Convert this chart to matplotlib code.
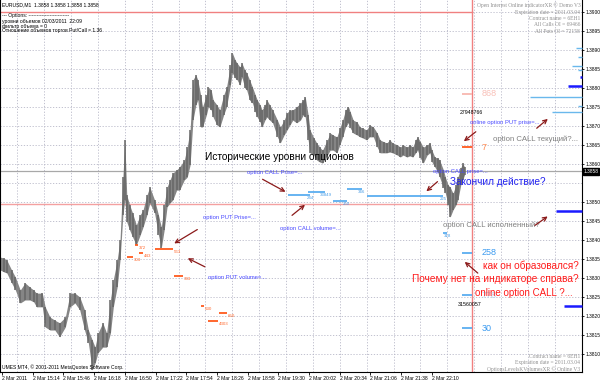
import matplotlib
matplotlib.use("Agg")
import matplotlib.pyplot as plt

plt.rcParams['font.family'] = ['Liberation Sans', 'DejaVu Sans']

# ---------------- price bars (minutes after 14:42, high, low) ----------------
bar_minute = [-2, 2, 5, 10, 14, 19, 24, 29, 33, 36, 42, 45, 50, 55, 60, 66, 71, 76, 81, 86,
              90, 94, 97, 100, 105, 109, 113, 116, 120, 123, 126, 128, 130, 133, 136, 140, 144, 147, 151, 154,
              159, 163, 166, 169, 172, 175, 178, 182, 185, 190, 193, 196, 199, 202, 204, 207, 209, 213, 215, 218,
              220, 224, 227, 231, 234, 238, 240, 243, 245, 248, 250, 253, 255, 258, 261, 264, 266, 269, 271, 274,
              276, 279, 282, 287, 290, 294, 297, 300, 303, 307, 311, 314, 316, 319, 321, 325, 328, 331, 334, 339,
              342, 345, 349, 352, 355, 358, 361, 363, 366, 370, 373, 376, 380, 383, 387, 391, 394, 398, 401, 404,
              407, 412, 415, 418, 422, 425, 428, 431, 433, 436, 439, 443, 446, 448, 451, 454, 456, 460, 462, 465,
              467, 470, 473, 475, 478, 480, 482]
bar_high = [1.38355, 1.38352, 1.38347, 1.38321, 1.38302, 1.38268, 1.38287, 1.38276, 1.38268, 1.38260,
            1.38260, 1.38224, 1.38197, 1.38189, 1.38182, 1.38197, 1.38260, 1.38260, 1.38250, 1.38216,
            1.38163, 1.38137, 1.38118, 1.38155, 1.38182, 1.38155, 1.38242, 1.38295, 1.38347, 1.38400,
            1.38565, 1.38663, 1.38518, 1.38492, 1.38471, 1.38439, 1.38466, 1.38479, 1.38518, 1.38539,
            1.38505, 1.38466, 1.38434, 1.38492, 1.38539, 1.38558, 1.38576, 1.38584, 1.38592, 1.38610,
            1.38644, 1.38689, 1.38821, 1.38834, 1.38821, 1.38781, 1.38750, 1.38781, 1.38802, 1.38794,
            1.38768, 1.38755, 1.38742, 1.38781, 1.38802, 1.38860, 1.38892, 1.38873, 1.38865, 1.38855,
            1.38865, 1.38847, 1.38839, 1.38821, 1.38802, 1.38781, 1.38768, 1.38755, 1.38742, 1.38755,
            1.38768, 1.38755, 1.38742, 1.38715, 1.38697, 1.38715, 1.38734, 1.38742, 1.38742, 1.38750,
            1.38760, 1.38768, 1.38776, 1.38729, 1.38689, 1.38668, 1.38655, 1.38644, 1.38636, 1.38663,
            1.38681, 1.38676, 1.38671, 1.38694, 1.38715, 1.38742, 1.38750, 1.38736, 1.38715, 1.38710,
            1.38697, 1.38694, 1.38689, 1.38702, 1.38697, 1.38681, 1.38663, 1.38658, 1.38655, 1.38663,
            1.38655, 1.38650, 1.38644, 1.38650, 1.38644, 1.38650, 1.38644, 1.38663, 1.38671, 1.38658,
            1.38644, 1.38650, 1.38655, 1.38636, 1.38618, 1.38615, 1.38610, 1.38584, 1.38565, 1.38544,
            1.38539, 1.38523, 1.38544, 1.38565, 1.38589, 1.38602, 1.38592]
bar_low = [1.38321, 1.38316, 1.38313, 1.38287, 1.38268, 1.38234, 1.38242, 1.38242, 1.38237, 1.38224,
           1.38224, 1.38171, 1.38163, 1.38163, 1.38145, 1.38171, 1.38224, 1.38234, 1.38216, 1.38163,
           1.38129, 1.38058, 1.38076, 1.38103, 1.38118, 1.38118, 1.38155, 1.38224, 1.38276, 1.38347,
           1.38466, 1.38505, 1.38447, 1.38426, 1.38408, 1.38387, 1.38413, 1.38434, 1.38466, 1.38497,
           1.38471, 1.38413, 1.38379, 1.38426, 1.38487, 1.38497, 1.38505, 1.38531, 1.38531, 1.38558,
           1.38565, 1.38597, 1.38715, 1.38755, 1.38768, 1.38697, 1.38697, 1.38729, 1.38750, 1.38742,
           1.38723, 1.38702, 1.38697, 1.38729, 1.38750, 1.38807, 1.38839, 1.38826, 1.38821, 1.38807,
           1.38828, 1.38800, 1.38794, 1.38768, 1.38760, 1.38736, 1.38723, 1.38710, 1.38697, 1.38715,
           1.38723, 1.38715, 1.38708, 1.38671, 1.38655, 1.38676, 1.38689, 1.38702, 1.38715, 1.38708,
           1.38715, 1.38729, 1.38723, 1.38663, 1.38629, 1.38623, 1.38610, 1.38605, 1.38602, 1.38623,
           1.38636, 1.38636, 1.38629, 1.38650, 1.38671, 1.38697, 1.38708, 1.38694, 1.38681, 1.38676,
           1.38671, 1.38668, 1.38663, 1.38671, 1.38671, 1.38644, 1.38629, 1.38629, 1.38629, 1.38631,
           1.38629, 1.38623, 1.38618, 1.38623, 1.38618, 1.38621, 1.38618, 1.38629, 1.38636, 1.38615,
           1.38602, 1.38623, 1.38629, 1.38605, 1.38592, 1.38579, 1.38565, 1.38537, 1.38523, 1.38492,
           1.38460, 1.38479, 1.38492, 1.38505, 1.38544, 1.38558, 1.38571]

time_ticks = [0, 32, 64, 96, 128, 160, 192, 224, 256, 288, 320, 352, 384, 416, 448]
time_labels = ["2 Mar 2011", "2 Mar 15:14", "2 Mar 15:46", "2 Mar 16:18", "2 Mar 16:50",
               "2 Mar 17:22", "2 Mar 17:54", "2 Mar 18:26", "2 Mar 18:58", "2 Mar 19:30",
               "2 Mar 20:02", "2 Mar 20:34", "2 Mar 21:06", "2 Mar 21:38", "2 Mar 22:10"]
price_ticks = [1.3810, 1.3815, 1.3820, 1.3825, 1.3830, 1.3835, 1.3840, 1.3845, 1.3850,
               1.3860, 1.3865, 1.3870, 1.3875, 1.3880, 1.3885, 1.3890, 1.3895, 1.3900]
current_price = 1.3858
put_call_line = 1.38495

# ---------------- historical option levels ----------------
call_start = [298, 319, 345, 359, 380, 460]
call_end = [321, 337, 359, 375, 460, 464]
call_price = [1.38518, 1.38526, 1.38502, 1.38534, 1.38516, 1.38418]
call_volume = ["244", "33849", "250", "346", "225", "318"]

put_start = [139, 159, 143, 130, 179, 207, 226, 215]
put_end = [142, 178, 147, 136, 189, 210, 234, 225]
put_price = [1.38387, 1.38376, 1.38366, 1.38355, 1.38305, 1.38226, 1.38208, 1.38187]
put_volume = ["372", "563", "443", "303", "383", "630", "650", "4303"]

# ---------------- online option levels (at the last bar) ----------------
online_call_price = [1.38366, 1.38255, 1.38168]
online_call_volume = ["258", "778", "30"]
online_put_price = [1.38644, 1.38784]
online_put_volume = ["7", "868"]
online_start, online_end = 479, 490

# ---------------- open interest histogram on the right ----------------
oi_price = [1.38905, 1.38881, 1.38857, 1.38847, 1.38828, 1.38805, 1.38776, 1.38752, 1.38736,
            1.38476, 1.38226]
oi_length = [6, 4, 10, 4, 2, 15, 54, 4, 31, 27, 19]
oi_dark = [False, False, False, False, True, True, False, False, False, True, True]

X0, X1 = -2.08, 604.4
Y0, Y1 = 1.380526, 1.390310

fig = plt.figure(figsize=(6, 3.82), dpi=100)
ax = fig.add_axes([0, 10 / 382, 582 / 600, 372 / 382])
ax.set_xlim(X0, X1)
ax.set_ylim(Y0, Y1)

# grid
for gx in range(16, 604, 28):
    ax.axvline(gx, color='#b8b8c8', lw=0.6, ls=(0, (1.5, 2)), zorder=0)
for gy in price_ticks + [1.3855]:
    ax.axhline(gy, color='#b8b8c8', lw=0.6, ls=(0, (1.5, 2)), zorder=0)

# price bars
ax.fill_between(bar_minute, bar_low, bar_high, color='#858585', lw=0, zorder=2)
ax.vlines(bar_minute, bar_low, bar_high, color='#666666', lw=1.1, zorder=2)

# reference lines
ax.axhline(current_price, color='#a8a8a8', lw=0.9, zorder=1)
ax.plot([X0, online_end], [put_call_line, put_call_line], color='#f4a0a0', lw=1.0, zorder=1)
ax.plot([X0, online_end], [1.3900, 1.3900], color='#f08080', lw=1.0, zorder=1)
ax.axvline(online_end, color='#f08080', lw=1.0, zorder=1)

# historical CALL levels
for s, e, p, v in zip(call_start, call_end, call_price, call_volume):
    ax.plot([s, e], [p, p], color='#5aaef0', lw=1.3, solid_capstyle='butt', zorder=3)
    ax.text(e, p - 0.00003, v, color='#4a9ee6', fontsize=3.2, ha='center', va='top', zorder=4)

# historical PUT levels
for s, e, p, v in zip(put_start, put_end, put_price, put_volume):
    ax.plot([s, e], [p, p], color='#ff5a1e', lw=1.3, solid_capstyle='butt', zorder=3)
    ax.text(e + 1, p - 0.00002, v, color='#ff6a30', fontsize=3.2, ha='left', va='top', zorder=4)

# online CALL / PUT levels
call_label_color = ['#3a9af0', '#b8d8f4', '#3a9af0']
for p, v, c in zip(online_call_price, online_call_volume, call_label_color):
    ax.plot([online_start, online_end], [p, p], color='#5aaef0', lw=1.3, solid_capstyle='butt', zorder=3)
    ax.text(online_end + 10, p, v, color=c, fontsize=6.5, ha='left', va='center', zorder=4)
put_line_color = ['#ff5a1e', '#f8b8b0']
put_label_color = ['#ff8a50', '#f8c0b8']
for p, v, lc, tc in zip(online_put_price, online_put_volume, put_line_color, put_label_color):
    ax.plot([online_start, online_end], [p, p], color=lc, lw=1.3, solid_capstyle='butt', zorder=3)
    ax.text(online_end + 10, p, v, color=tc, fontsize=6.5, ha='left', va='center', zorder=4)

# OI histogram from the right edge
for p, L, dk in zip(oi_price, oi_length, oi_dark):
    ax.plot([X1 - L, X1], [p, p], color='#1a1aff' if dk else '#6ab8ec',
            lw=1.8 if dk else 1.0, solid_capstyle='butt', zorder=3, clip_on=False)

# annotations
txt = dict(zorder=5, ha='left', va='center')
ax.text(212, 1.38618, "Исторические уровни опционов", color='black', fontsize=7.3, **txt)
ax.text(255, 1.38576, "option CALL Prise=...", color='#4848ff', fontsize=4.2, **txt)
ax.text(209, 1.38460, "option PUT Prise=...", color='#4848ff', fontsize=4.2, **txt)
ax.text(215, 1.38302, "option PUT volume=...", color='#4848ff', fontsize=4.2, **txt)
ax.text(290, 1.38429, "option CALL volume=...", color='#4848ff', fontsize=4.2, **txt)
ax.text(449, 1.38579, "option CALL prise=...", color='#4848ff', fontsize=4.2, **txt)
ax.text(488, 1.38710, "online option PUT prise=...", color='#4848ff', fontsize=4.2, **txt)
ax.text(467, 1.38552, "Закончил действие?", color='#2020f0', fontsize=7.2, **txt)
ax.text(512, 1.38665, "option CALL текущий?...", color='#808080', fontsize=5.6, **txt)
ax.text(460, 1.38439, "option CALL исполненный?", color='#808080', fontsize=5.6, **txt)
ax.text(501, 1.38333, "как он образовался?", color='#ff1a1a', fontsize=7.2, **txt)
ax.text(427, 1.38298, "Почему нет на индикаторе справа?", color='#ff1a1a', fontsize=7.3, **txt)
ax.text(493, 1.38261, "online option CALL ?...", color='#ff1a1a', fontsize=7.0, **txt)
ax.text(477, 1.38736, "27948766", color='black', fontsize=3.8, **txt)
ax.text(475, 1.38231, "31560057", color='black', fontsize=3.8, **txt)

arrows = [((269, 1.38563), (298, 1.38523)), ((206, 1.38431), (177, 1.38387)),
          ((214, 1.38326), (191, 1.38355)), ((300, 1.38460), (318, 1.38497)),
          ((456, 1.38558), (440, 1.38523)), ((496, 1.38689), (479, 1.38655)),
          ((555, 1.38689), (571, 1.38723)), ((553, 1.38434), (571, 1.38466)),
          ((498, 1.38308), (480, 1.38347))]
for a, b in arrows:
    ax.annotate("", xy=b, xytext=a, zorder=5,
                arrowprops=dict(arrowstyle='->', color='#8b1a1a', lw=0.9, mutation_scale=7))

# corner texts
tl = ["EURUSD,M1  1.3858 1.3858 1.3858 1.3858", "--- Options: -------------------------",
      "уровни объемов 02/03/2011  22:09", "фильтр объема = 0",
      "Отношение объемов торгов Put/Call = 1.36"]
for s, fy in zip(tl, [0.9866, 0.957, 0.9435, 0.930, 0.9167]):
    ax.text(0.004, fy, s, transform=ax.transAxes, fontsize=3.6, color='black', va='center', zorder=6)
tr = ["Open Interest Online indicatorXR © Demo V3", "Expiration date = 2011.03.04",
      "Contract name = 6EH1", "All Calls OI = 69466", "All Puts OI = 72158"]
for s, fy in zip(tr, [0.9866, 0.9677, 0.9516, 0.9328, 0.914]):
    ax.text(0.997, fy, s, transform=ax.transAxes, fontsize=4.0, color='#909090', ha='right',
            va='center', family='Liberation Serif', zorder=6)
br = ["Contract name = 6EH1", "Expiration date = 2011.03.04", "OptionsLevelsKVolumesXR © Online V3"]
for s, fy in zip(br, [0.043, 0.026, 0.008]):
    ax.text(0.997, fy, s, transform=ax.transAxes, fontsize=4.0, color='#909090', ha='right',
            va='center', family='Liberation Serif', zorder=6)
ax.text(0.004, 0.0134, "UMES MT4, © 2001-2011 MetaQuotes Software Corp.", transform=ax.transAxes,
        fontsize=3.6, color='black', va='center', zorder=6)

# axes
ax.yaxis.tick_right()
ax.set_yticks(price_ticks)
ax.set_yticklabels(["%.4f" % v for v in price_ticks])
ax.tick_params(axis='y', labelsize=3.5, length=1.5, pad=1.0, width=0.6)
ax.set_xticks(time_ticks)
ax.set_xticklabels(time_labels)
for lab in ax.get_xticklabels():
    lab.set_horizontalalignment('left')
ax.tick_params(axis='x', labelsize=3.6, length=2, pad=1, width=0.6)
ax.text(1.003, current_price, "%.4f" % current_price, transform=ax.get_yaxis_transform(),
        fontsize=3.5, color='white', va='center', ha='left',
        bbox=dict(boxstyle='square,pad=0.12', fc='black', ec='black'), zorder=6, clip_on=False)
for sp in ax.spines.values():
    sp.set_color('black')
    sp.set_linewidth(0.8)
ax.spines['top'].set_visible(False)

fig.savefig("out.png", dpi=100, facecolor='white')
